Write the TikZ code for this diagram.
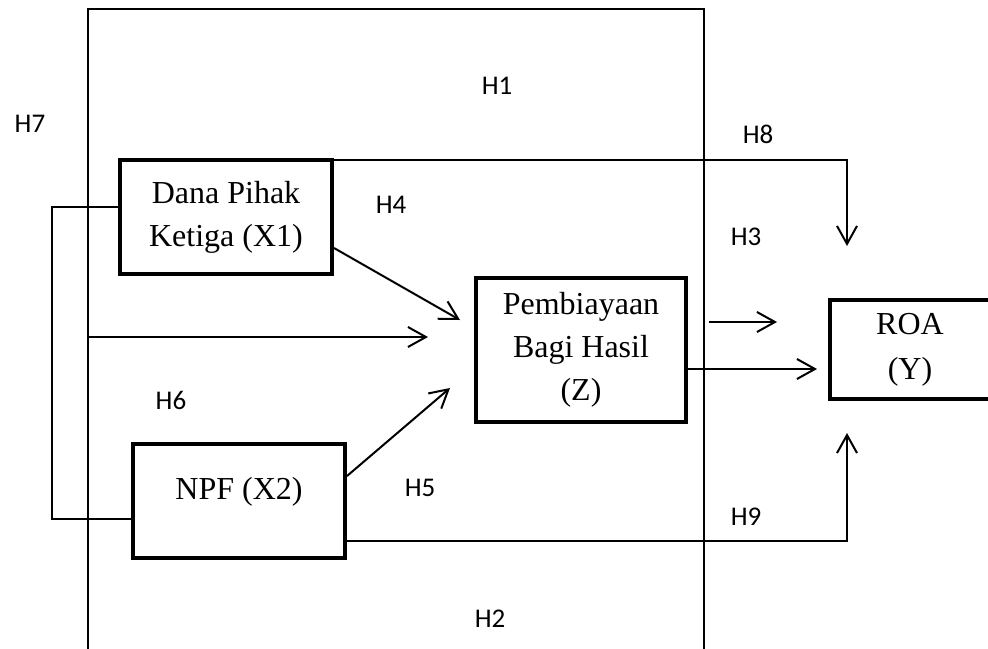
\documentclass[tikz,border=0pt]{standalone}
\usepackage{fontspec}
\setmainfont{Liberation Serif}
\newfontfamily\hfont{Carlito}
\usetikzlibrary{arrows.meta,calc}

\begin{document}
\begin{tikzpicture}[x=0.5pt, y=-0.5pt,
  var/.style={draw, line width=2pt, align=center, inner sep=0pt,
    font=\fontsize{16}{21.5}\selectfont},
  hlab/.style={font=\hfont\fontsize{13.5}{16}\selectfont, inner sep=0pt},
  link/.style={line width=1pt},
  arr/.style={line width=1pt, -{Straight Barb[length=9pt, width=10pt]}}]

\useasboundingbox (0,0) rectangle (988,648);

\node[var, minimum width=106pt, minimum height=57pt] (x1) at (226,217) {Dana Pihak\\Ketiga (X1)};
\node[var, minimum width=106pt, minimum height=57pt, text depth=13pt] (x2) at (239,501) {NPF (X2)};
\node[var, minimum width=105pt, minimum height=72pt] (z) at (581,350) {Pembiayaan\\Bagi Hasil\\(Z)};
\node[var, minimum width=80pt, minimum height=49.5pt] (y) at (910,349.5) {ROA\\[1pt](Y)};

\node[hlab] (h1) at (497,86) {H1};
\node[hlab] (h2) at (490,619) {H2};
\node[hlab] (h3) at (746,237) {H3};
\node[hlab] (h4) at (391,205) {H4};
\node[hlab] (h5) at (420,488) {H5};
\node[hlab] (h6) at (171,400) {H6};
\node[hlab] (h7) at (30,124) {H7};
\node[hlab] (h8) at (758,134) {H8};
\node[hlab] (h9) at (746,517) {H9};

\coordinate (fbl) at (88,670);
\coordinate (ftr) at (704,9);
\coordinate (fbr) at (704,670);
\coordinate (f6) at (88,337);
\coordinate (z6) at (428,337);
\coordinate (z4) at (460,320);
\coordinate (z5) at (450,388);
\coordinate (y8) at (847,246);
\coordinate (y9) at (847,433);
\coordinate (s1) at (709,322);
\coordinate (s2) at (777,322);
\coordinate (y2) at (817,369);

% outer frame
\draw[link] (fbl) |- (ftr) -- (fbr);

% left bracket between X1 and X2
\draw[link] ($(x1.west)+(0,-10)$) -- ++(-66,0) |- ($(x2.west)+(0,18)$);

\draw[arr] ($(x1.east)+(0,31)$) -- (z4);
\draw[arr] ($(x2.east)+(0,-25)$) -- (z5);
\draw[arr] (f6) -- (z6);

\draw[arr] ($(x1.north east)+(0,2)$) -| (y8);
\draw[arr] ($(x2.east)+(0,40)$) -| (y9);

\draw[arr] (s1) -- (s2);
\draw[arr] ($(z.east)+(0,19)$) -- (y2);

\end{tikzpicture}
\end{document}
